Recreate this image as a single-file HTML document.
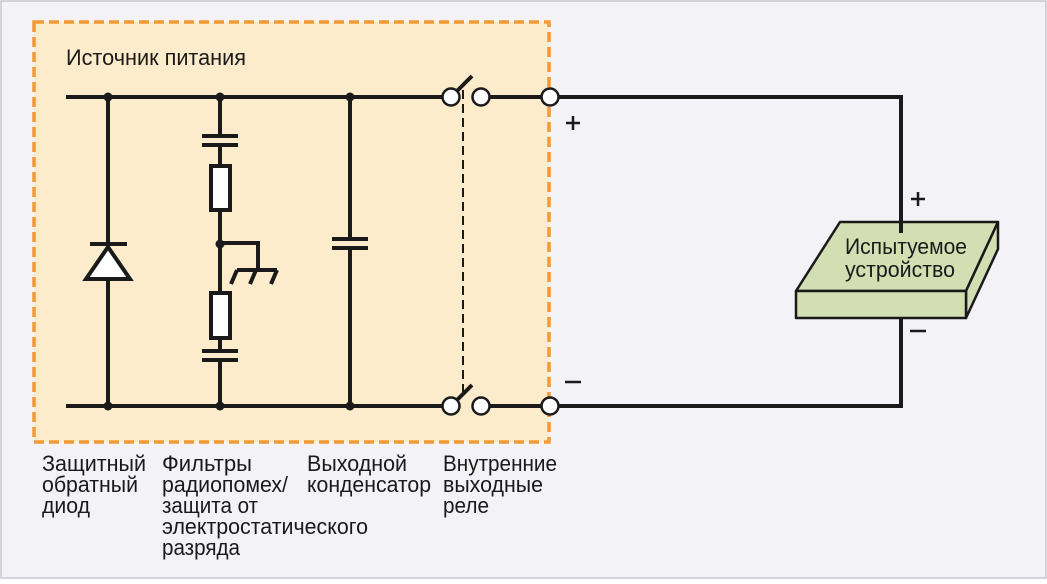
<!DOCTYPE html>
<html><head><meta charset="utf-8"><style>
html,body{margin:0;padding:0;background:#fff}
svg text{font-family:"Liberation Sans Narrow","Liberation Sans",sans-serif;fill:#1a1a1a}
</style></head><body>
<svg width="1047" height="579" viewBox="0 0 1047 579" xmlns="http://www.w3.org/2000/svg">
<rect x="1" y="1" width="1045" height="577" fill="#f2f2f7" stroke="#c8c8cc" stroke-width="1.5"/>
<rect x="34" y="22" width="515" height="420" fill="#fdeccb" stroke="#f39a34" stroke-width="3.5" stroke-dasharray="10,5"/>
<text x="66" y="65" font-size="22" textLength="180" lengthAdjust="spacingAndGlyphs">Источник питания</text>
<g stroke="#1a1a1a" stroke-width="4" fill="none">
<line x1="66" y1="97" x2="443" y2="97"/>
<line x1="481" y1="97" x2="901" y2="97"/>
<line x1="66" y1="406" x2="443" y2="406"/>
<line x1="481" y1="406" x2="901" y2="406"/>
<line x1="901" y1="95" x2="901" y2="235"/>
<line x1="901" y1="318" x2="901" y2="408"/>
<line x1="108" y1="97" x2="108" y2="406"/>
<line x1="90" y1="244" x2="127" y2="244"/>
<line x1="220" y1="97" x2="220" y2="136"/>
<line x1="220" y1="145" x2="220" y2="351"/>
<line x1="220" y1="360" x2="220" y2="406"/>
<line x1="202" y1="136" x2="238" y2="136"/>
<line x1="202" y1="145" x2="238" y2="145"/>
<line x1="202" y1="351" x2="238" y2="351"/>
<line x1="202" y1="360" x2="238" y2="360"/>
<polyline points="220,243 258,243 258,270"/>
<line x1="237" y1="270" x2="277" y2="270"/>
<line x1="237" y1="270" x2="231" y2="284"/>
<line x1="256" y1="270" x2="250" y2="284"/>
<line x1="277" y1="270" x2="271" y2="284"/>
<line x1="350" y1="97" x2="350" y2="239"/>
<line x1="350" y1="248" x2="350" y2="406"/>
<line x1="332" y1="239" x2="368" y2="239"/>
<line x1="332" y1="248" x2="368" y2="248"/>
<line x1="455" y1="93" x2="472" y2="76"/>
<line x1="455" y1="402" x2="472" y2="385"/>
</g>
<line x1="463" y1="90" x2="463" y2="392" stroke="#1a1a1a" stroke-width="2" stroke-dasharray="9,5"/>
<polygon points="108,247 86,279 130,279" fill="#fff" stroke="#1a1a1a" stroke-width="4"/>
<rect x="211" y="166" width="19" height="44" fill="#fff" stroke="#1a1a1a" stroke-width="4"/>
<rect x="211" y="293" width="19" height="45" fill="#fff" stroke="#1a1a1a" stroke-width="4"/>
<g fill="#1a1a1a">
<circle cx="108" cy="97" r="4.5"/><circle cx="220" cy="97" r="4.5"/><circle cx="350" cy="97" r="4.5"/>
<circle cx="108" cy="406" r="4.5"/><circle cx="220" cy="406" r="4.5"/><circle cx="350" cy="406" r="4.5"/>
<circle cx="220" cy="244" r="4.5"/>
</g>
<g fill="#fff" stroke="#1a1a1a" stroke-width="2.5">
<circle cx="451" cy="97" r="8.5"/><circle cx="481" cy="97" r="8.5"/><circle cx="550" cy="97" r="8.5"/>
<circle cx="451" cy="406" r="8.5"/><circle cx="481" cy="406" r="8.5"/><circle cx="550" cy="406" r="8.5"/>
</g>
<g stroke="#1a1a1a" stroke-width="2.5" fill="#d3dfb3" stroke-linejoin="round">
<polygon points="840,222 998,222 966,291 796,291"/>
<polygon points="998,222 998,249 966,318 966,291"/>
<rect x="796" y="291" width="170" height="27"/>
</g>
<line x1="901" y1="222" x2="901" y2="233" stroke="#1a1a1a" stroke-width="4"/>
<text x="845" y="254" font-size="22" textLength="122" lengthAdjust="spacingAndGlyphs">Испытуемое</text>
<text x="845" y="277" font-size="22" textLength="110" lengthAdjust="spacingAndGlyphs">устройство</text>
<g stroke="#1a1a1a" stroke-width="2.5">
<line x1="566" y1="123" x2="580" y2="123"/><line x1="573" y1="116" x2="573" y2="130"/>
<line x1="565" y1="382" x2="581" y2="382"/>
<line x1="911" y1="199" x2="925" y2="199"/><line x1="918" y1="192" x2="918" y2="206"/>
<line x1="910" y1="331" x2="926" y2="331"/>
</g>
<g font-size="22">
<text x="42" y="471" textLength="104" lengthAdjust="spacingAndGlyphs">Защитный</text><text x="42" y="492" textLength="96" lengthAdjust="spacingAndGlyphs">обратный</text><text x="42" y="513" textLength="48" lengthAdjust="spacingAndGlyphs">диод</text>
<text x="162" y="471" textLength="90" lengthAdjust="spacingAndGlyphs">Фильтры</text><text x="162" y="492" textLength="126" lengthAdjust="spacingAndGlyphs">радиопомех/</text><text x="162" y="513" textLength="96" lengthAdjust="spacingAndGlyphs">защита от</text><text x="162" y="534" textLength="206" lengthAdjust="spacingAndGlyphs">электростатического</text><text x="162" y="555" textLength="78" lengthAdjust="spacingAndGlyphs">разряда</text>
<text x="307" y="471" textLength="100" lengthAdjust="spacingAndGlyphs">Выходной</text><text x="307" y="492" textLength="124" lengthAdjust="spacingAndGlyphs">конденсатор</text>
<text x="443" y="471" textLength="114" lengthAdjust="spacingAndGlyphs">Внутренние</text><text x="443" y="492" textLength="100" lengthAdjust="spacingAndGlyphs">выходные</text><text x="443" y="513" textLength="46" lengthAdjust="spacingAndGlyphs">реле</text>
</g>
</svg>
</body></html>
